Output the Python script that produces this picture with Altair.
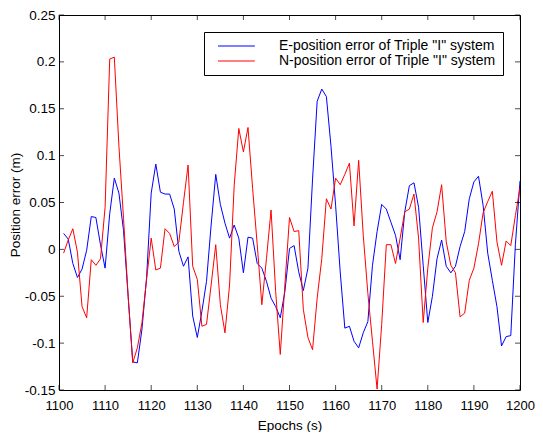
import altair as alt
import pandas as pd

epochs = list(range(1101, 1201))

e_error = [
    0.017, 0.011, -0.015, -0.030, -0.021, -0.001, 0.035, 0.034, 0.005, -0.020,
    0.038, 0.076, 0.060, 0.020, -0.050, -0.120, -0.121, -0.085, -0.030, 0.060,
    0.091, 0.061, 0.059, 0.059, 0.043, -0.002, -0.018, -0.008, -0.071, -0.094,
    -0.066, -0.034, 0.026, 0.080, 0.048, 0.028, 0.012, 0.026, 0.012, -0.025,
    0.013, 0.012, -0.015, -0.020, -0.034, -0.052, -0.061, -0.073, -0.045, 0.001,
    0.004, -0.024, -0.044, -0.020, 0.075, 0.158, 0.171, 0.163, 0.110, 0.047,
    -0.024, -0.084, -0.082, -0.098, -0.105, -0.089, -0.077, -0.017, 0.019, 0.048,
    0.043, 0.029, 0.015, -0.011, 0.040, 0.068, 0.071, 0.045, -0.017, -0.078,
    -0.050, -0.010, 0.010, -0.018, -0.025, -0.018, 0.003, 0.019, 0.054, 0.072,
    0.078, 0.047, -0.004, -0.033, -0.061, -0.103, -0.093, -0.092, 0.005, 0.073,
]

n_error = [
    -0.004, 0.010, 0.022, -0.003, -0.061, -0.073, -0.011, -0.017, -0.010, 0.045,
    0.203, 0.205, 0.110, 0.033, -0.050, -0.121, -0.105, -0.078, -0.032, 0.012,
    -0.022, -0.020, 0.022, 0.017, 0.003, 0.008, 0.050, 0.090, -0.018, -0.032,
    -0.082, -0.080, -0.038, 0.005, -0.059, -0.089, -0.038, 0.068, 0.129, 0.104,
    0.130, 0.065, 0.005, -0.059, -0.010, 0.042, -0.045, -0.112, -0.038, 0.034,
    0.019, 0.020, -0.064, -0.094, -0.107, -0.052, -0.010, 0.054, 0.043, 0.076,
    0.069, 0.080, 0.092, 0.025, 0.095, 0.015, -0.047, -0.098, -0.149, -0.080,
    0.005, 0.005, -0.015, 0.012, 0.040, 0.043, 0.059, 0.012, -0.078, -0.020,
    0.023, 0.040, 0.069, 0.008, -0.017, -0.025, -0.072, -0.068, -0.033, -0.020,
    0.006, 0.039, 0.051, 0.062, 0.008, -0.017, 0.009, 0.004, 0.036, 0.066,
]

series_names = [
    'E-position error of Triple "I" system',
    'N-position error of Triple "I" system',
]
series_colors = ["#0000FF", "#FF0000"]

x_ticks = list(range(1100, 1201, 10))
y_ticks = [-0.15, -0.1, -0.05, 0, 0.05, 0.1, 0.15, 0.2, 0.25]

FONT = "Liberation Sans, Arial, Helvetica, sans-serif"
W, H = 461, 375

df = pd.concat([
    pd.DataFrame({"Epoch": epochs, "Error": e_error, "Series": series_names[0]}),
    pd.DataFrame({"Epoch": epochs, "Error": n_error, "Series": series_names[1]}),
])

xscale = alt.Scale(domain=[1100, 1200], nice=False, zero=False)
yscale = alt.Scale(domain=[-0.15, 0.25], nice=False, zero=False)

y_label_expr = "datum.value < 0 ? '-' + format(-datum.value, '.2~f') : format(datum.value, '.2~f')"

lines = alt.Chart(df).mark_line(strokeWidth=1, clip=True).encode(
    x=alt.X("Epoch:Q", scale=xscale, axis=alt.Axis(
        values=x_ticks, title="Epochs (s)", format="d",
        domain=False, ticks=False, grid=False, labelFlush=False,
        labelFontSize=13, labelPadding=9, labelColor="black", labelFont=FONT,
        titleFontSize=13.5, titleFontWeight="normal", titleFont=FONT, titleColor="black",
        titleY=28, titleBaseline="top",
    )),
    y=alt.Y("Error:Q", scale=yscale, axis=alt.Axis(
        values=y_ticks, title="Position error (m)", labelExpr=y_label_expr,
        domain=False, ticks=False, grid=False, labelFlush=False,
        labelFontSize=13.5, labelPadding=4, labelColor="black", labelFont=FONT,
        titleFontSize=13.5, titleFontWeight="normal", titleFont=FONT, titleColor="black",
        titleX=-37, titleY=H / 2 + 2, titleBaseline="bottom",
    )),
    color=alt.Color("Series:N", sort=series_names,
        scale=alt.Scale(domain=series_names, range=series_colors),
        legend=alt.Legend(
            orient="none", legendX=145, legendY=17, title=None,
            symbolType="M0,0H8", symbolSize=85, symbolStrokeWidth=1,
            labelFontSize=14, labelFont=FONT, labelColor="black", labelLimit=0,
            labelOffset=54, padding=7, rowPadding=1,
            strokeColor="black", fillColor="white",
        )),
    detail="Series:N",
)

xt = pd.DataFrame({"Epoch": x_ticks})
yt = pd.DataFrame({"Error": y_ticks})

tick_bottom = alt.Chart(xt).mark_tick(color="black", size=5, thickness=1, orient="vertical").encode(
    x=alt.X("Epoch:Q", scale=xscale), y=alt.value(H - 2.5))
tick_top = alt.Chart(xt).mark_tick(color="black", size=5, thickness=1, orient="vertical").encode(
    x=alt.X("Epoch:Q", scale=xscale), y=alt.value(2.5))
tick_left = alt.Chart(yt).mark_tick(color="black", size=5, thickness=1, orient="horizontal").encode(
    y=alt.Y("Error:Q", scale=yscale), x=alt.value(2.5))
tick_right = alt.Chart(yt).mark_tick(color="black", size=5, thickness=1, orient="horizontal").encode(
    y=alt.Y("Error:Q", scale=yscale), x=alt.value(W - 2.5))

chart = alt.layer(lines, tick_bottom, tick_top, tick_left, tick_right).properties(
    width=W, height=H,
    autosize=alt.AutoSizeParams(type="none"),
    padding={"left": 51, "top": 7, "right": 15, "bottom": 42},
    background="white",
).configure_view(stroke="black", strokeWidth=1)

chart.save("out.html", embed_options={"renderer": "svg", "actions": False})
